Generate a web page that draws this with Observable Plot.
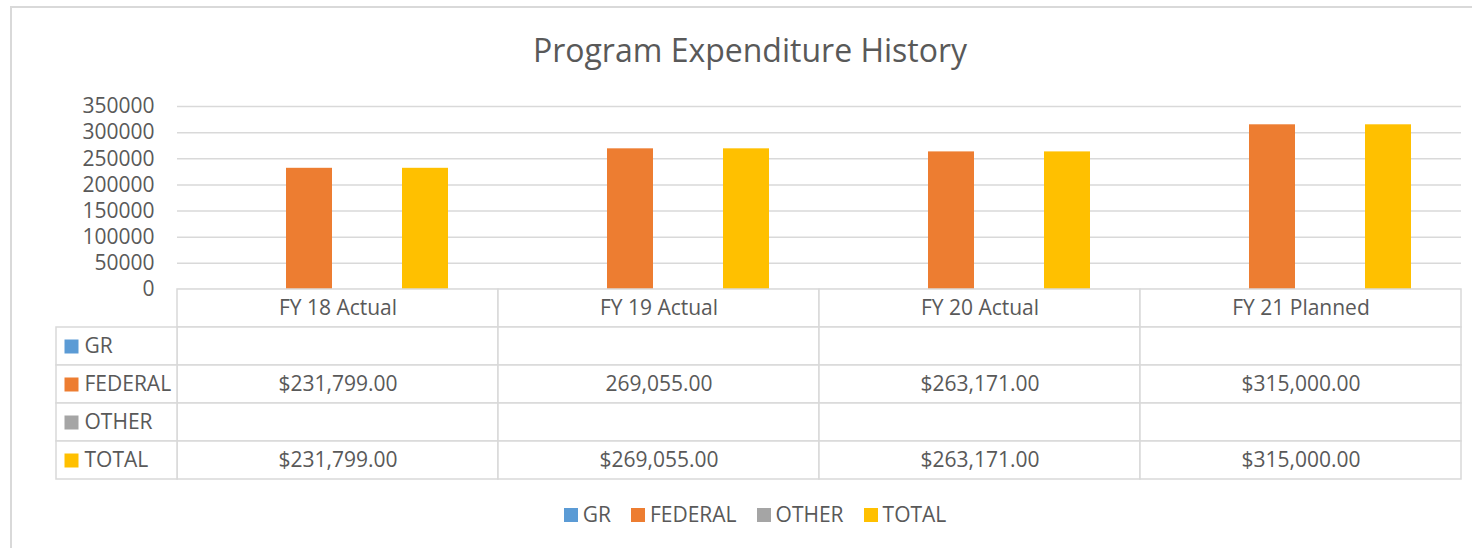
<!DOCTYPE html>
<html>
<head>
<meta charset="utf-8">
<script src="https://cdn.jsdelivr.net/npm/d3@7"></script>
<script src="https://cdn.jsdelivr.net/npm/@observablehq/plot@0.6"></script>
<style>
  html, body { margin: 0; padding: 0; background: #fff; }
  #root { position: relative; width: 1472px; height: 548px; overflow: hidden; font-family: "Open Sans", sans-serif; color: #595959; background: #fff; }
  #border { position: absolute; left: 10px; top: 6px; width: 1500px; height: 600px; border: 2px solid #d9d9d9; box-sizing: border-box; }
  #title { position: absolute; left: 0; width: 1500px; top: 28px; text-align: center; font-size: 32px; line-height: normal; color: #595959; }
  .layer { position: absolute; left: 0; top: 0; }
  #legend { position: absolute; left: 0; width: 1510px; top: 500px; display: flex; justify-content: center; font-size: 21px; line-height: 29px; color: #595959; }
  #legend .item { display: flex; align-items: center; margin: 0 10px; }
  #legend .sw { width: 14px; height: 14px; margin-right: 5px; }
</style>
</head>
<body>
<div id="root">
  <div id="border"></div>
  <div id="title">Program Expenditure History</div>
  <div id="legend"></div>
</div>
<script>
const categories = ["FY 18 Actual", "FY 19 Actual", "FY 20 Actual", "FY 21 Planned"];
const seriesNames = ["GR", "FEDERAL", "OTHER", "TOTAL"];
const seriesColors = ["#5B9BD5", "#ED7D31", "#A5A5A5", "#FFC000"];
const grValues = [null, null, null, null];
const federalValues = [231799, 269055, 263171, 315000];
const otherValues = [null, null, null, null];
const totalValues = [231799, 269055, 263171, 315000];
const yTicks = [0, 50000, 100000, 150000, 200000, 250000, 300000, 350000];
const grLabels = ["", "", "", ""];
const federalLabels = ["$231,799.00", "269,055.00", "$263,171.00", "$315,000.00"];
const otherLabels = ["", "", "", ""];
const totalLabels = ["$231,799.00", "$269,055.00", "$263,171.00", "$315,000.00"];

const valuesBySeries = [grValues, federalValues, otherValues, totalValues];
const labelsBySeries = [grLabels, federalLabels, otherLabels, totalLabels];

const barData = [];
categories.forEach((c, i) => {
  seriesNames.forEach((s, j) => {
    const v = valuesBySeries[j][i];
    if (v != null) barData.push({category: c, series: s, value: v});
  });
});

const tableRows = ["header", ...seriesNames];
const tableCells = [];
categories.forEach((c, i) => {
  tableCells.push({category: c, row: "header", label: c});
  seriesNames.forEach((s, j) => tableCells.push({category: c, row: s, label: labelsBySeries[j][i]}));
});

const font = "'Open Sans', sans-serif";
const fs = 21;
const baseStyle = {background: "transparent", fontFamily: font, fontSize: fs + "px", color: "#595959", overflow: "visible"};
const root = document.getElementById("root");

const bars = Plot.plot({
  width: 1472, height: 300,
  marginTop: 106, marginBottom: 11, marginLeft: 177, marginRight: 11,
  style: baseStyle,
  fx: {domain: categories, padding: 0, axis: null, label: null},
  x: {domain: seriesNames, paddingInner: 0.2137, paddingOuter: 0.85, axis: null},
  y: {domain: [0, 350000], axis: null},
  color: {domain: seriesNames, range: seriesColors},
  marks: [
    Plot.gridY(yTicks, {stroke: "#d9d9d9", strokeOpacity: 1, strokeWidth: 1.5}),
    Plot.barY(barData, {fx: "category", x: "series", y: "value", fill: "series"}),
    Plot.axisY(yTicks, {tickSize: 0, tickPadding: 23, tickFormat: d => String(d), label: null, fontSize: fs, fill: "#595959"})
  ]
});
bars.classList.add("layer");
root.appendChild(bars);

const table = Plot.plot({
  width: 1472, height: 490,
  marginTop: 289, marginBottom: 11, marginLeft: 177, marginRight: 11,
  style: baseStyle,
  x: {domain: categories, padding: 0, axis: null},
  y: {domain: tableRows, padding: 0, axis: null},
  marks: [
    Plot.cell(tableCells, {x: "category", y: "row", fill: "white", stroke: "#d9d9d9", strokeWidth: 1.5, inset: 0}),
    Plot.text(tableCells, {x: "category", y: "row", text: "label", fontSize: fs, fill: "#595959"})
  ]
});
table.classList.add("layer");
root.appendChild(table);

const labels = Plot.plot({
  width: 1472, height: 490,
  marginTop: 289, marginBottom: 11, marginLeft: 56, marginRight: 1472 - 177,
  style: baseStyle,
  y: {domain: tableRows, padding: 0, axis: null},
  color: {domain: seriesNames, range: seriesColors},
  marks: [
    Plot.cell(seriesNames, {y: d => d, fill: "white", stroke: "#d9d9d9", strokeWidth: 1.5, inset: 0}),
    Plot.dot(seriesNames, {y: d => d, frameAnchor: "left", dx: 15, symbol: "square", fill: d => d, r: 7.9}),
    Plot.text(seriesNames, {y: d => d, frameAnchor: "left", dx: 28, textAnchor: "start", text: d => d, fontSize: fs, fill: "#595959"})
  ]
});
labels.classList.add("layer");
root.appendChild(labels);

const legend = document.getElementById("legend");
seriesNames.forEach((s, j) => {
  const item = document.createElement("div");
  item.className = "item";
  const sw = document.createElement("div");
  sw.className = "sw";
  sw.style.background = seriesColors[j];
  const t = document.createElement("span");
  t.textContent = s;
  item.appendChild(sw);
  item.appendChild(t);
  legend.appendChild(item);
});
</script>
</body>
</html>
